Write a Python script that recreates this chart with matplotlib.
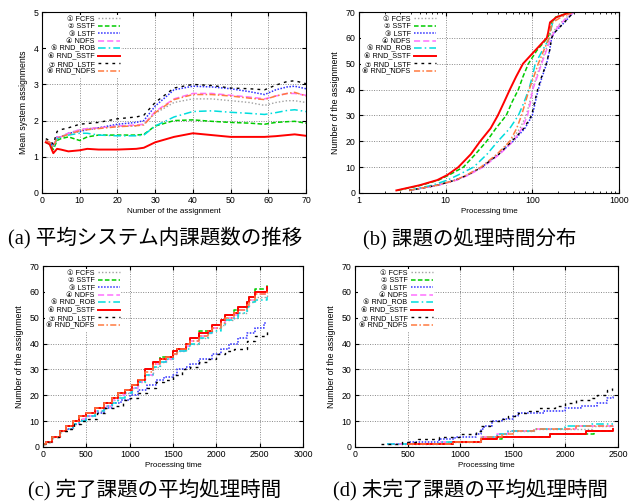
import matplotlib
matplotlib.use("Agg")
import matplotlib.pyplot as plt
import numpy as np

plt.rcParams['font.family'] = ['Liberation Sans', 'DejaVu Sans', 'Noto Sans CJK JP']

labels = ["① FCFS", "② SSTF", "③ LSTF", "④ NDFS",
          "⑤ RND_ROB", "⑥ RND_SSTF", "⑦ RND_LSTF", "⑧ RND_NDFS"]
colors = ['#a0a0a0', '#00cc00', '#3030ff', '#ff70ff',
          '#00dddd', '#ff0000', '#000000', '#ff7a40']
styles = [(0, (1, 1.5)), (0, (3, 1.5)), (0, (1, 1)), (0, (4, 2)),
          (0, (5, 2, 1, 2)), '-', (0, (2, 3)), (0, (4, 1.5, 1, 1.5))]
widths = [1.0, 1.1, 1.1, 1.1, 1.1, 1.4, 1.0, 1.1]

captions = ["(a) 平均システム内課題数の推移", "(b) 課題の処理時間分布",
            "(c) 完了課題の平均処理時間", "(d) 未完了課題の平均処理時間"]

# ---- (a) mean system assignments vs number of the assignment
a_x = [1, 2, 3, 4, 5, 7, 10, 12, 15, 20, 25, 27, 30, 35, 40, 45, 50, 55, 59, 62, 65, 67, 70]
a_fcfs  = [1.45, 1.40, 1.30, 1.50, 1.55, 1.65, 1.75, 1.78, 1.80, 1.85, 1.85, 1.90, 2.20, 2.50, 2.60, 2.60, 2.55, 2.50, 2.42, 2.50, 2.55, 2.55, 2.50]
a_sstf  = [1.40, 1.35, 1.20, 1.45, 1.50, 1.55, 1.45, 1.55, 1.60, 1.60, 1.60, 1.62, 1.85, 2.00, 2.02, 1.98, 1.95, 1.93, 1.90, 1.95, 1.97, 1.98, 1.93]
a_lstf  = [1.45, 1.40, 1.30, 1.55, 1.55, 1.65, 1.70, 1.75, 1.80, 1.90, 1.95, 2.00, 2.40, 2.85, 2.95, 2.93, 2.88, 2.80, 2.72, 2.85, 2.93, 2.95, 2.88]
a_ndfs  = [1.45, 1.40, 1.30, 1.55, 1.55, 1.65, 1.75, 1.78, 1.80, 1.85, 1.88, 1.90, 2.25, 2.60, 2.75, 2.75, 2.70, 2.65, 2.60, 2.68, 2.75, 2.75, 2.70]
a_rrob  = [1.40, 1.35, 1.25, 1.50, 1.55, 1.60, 1.65, 1.65, 1.60, 1.58, 1.58, 1.60, 1.85, 2.10, 2.25, 2.27, 2.23, 2.20, 2.17, 2.22, 2.28, 2.30, 2.25]
a_rsstf = [1.40, 1.35, 1.10, 1.22, 1.20, 1.15, 1.18, 1.22, 1.20, 1.20, 1.22, 1.25, 1.40, 1.55, 1.65, 1.60, 1.55, 1.55, 1.55, 1.57, 1.60, 1.62, 1.58]
a_rlstf = [1.50, 1.45, 1.35, 1.70, 1.75, 1.80, 1.90, 1.92, 1.95, 2.05, 2.10, 2.15, 2.50, 2.90, 3.00, 2.97, 2.90, 2.88, 2.85, 2.98, 3.08, 3.10, 3.02]
a_rndfs = [1.45, 1.40, 1.28, 1.52, 1.55, 1.62, 1.72, 1.75, 1.78, 1.83, 1.86, 1.88, 2.22, 2.58, 2.72, 2.72, 2.68, 2.62, 2.58, 2.68, 2.75, 2.78, 2.68]

# ---- (b) processing-time distribution (x = processing time, y = rank)
b_y     = [1, 3, 5, 7, 10, 15, 20, 25, 30, 35, 40, 45, 50, 55, 60, 62, 64, 66, 68, 70]
b_fcfs  = [3.8, 8.0, 13.0, 18.0, 26.0, 40.0, 56.0, 72.0, 85.0, 93.0, 100, 112, 125, 142, 160, 172, 190, 215, 250, 310]
b_sstf  = [2.8, 5.2, 8.3, 11.0, 16.0, 22.0, 29.7, 38.0, 50.0, 58.0, 69.0, 78.0, 90.0, 112, 150, 160, 164, 168, 185, 280]
b_lstf  = [3.8, 8.0, 13.0, 18.0, 26.0, 41.0, 60.0, 82.0, 100, 108, 117, 130, 146, 158, 167, 180, 205, 235, 265, 300]
b_ndfs  = [3.8, 8.2, 13.5, 18.5, 27.0, 42.0, 60.0, 76.0, 88.0, 95.0, 101, 114, 128, 145, 165, 177, 195, 220, 255, 300]
b_rrob  = [3.8, 7.0, 10.5, 14.0, 21.0, 30.0, 40.0, 55.0, 69.0, 80.0, 91.0, 100, 108, 130, 158, 162, 166, 172, 190, 290]
b_rsstf = [2.7, 5.0, 8.0, 10.5, 14.0, 19.5, 25.0, 33.0, 40.0, 47.0, 55.0, 65.0, 78.0, 107, 147, 152, 156, 160, 190, 280]
b_rlstf = [3.8, 8.0, 13.0, 18.0, 26.0, 41.0, 58.0, 80.0, 98.0, 106, 115, 128, 145, 158, 167, 180, 205, 235, 265, 305]
b_rndfs = [3.8, 8.0, 13.0, 17.5, 25.5, 39.0, 55.0, 66.0, 75.0, 83.0, 92.0, 104, 117, 135, 156, 160, 165, 172, 215, 300]

# ---- (c) completed assignments (step data: time, count)
c_t_main = [0, 30, 100, 200, 270, 350, 420, 500, 600, 700, 800, 870, 950, 1030, 1100, 1180, 1270, 1350, 1420, 1500, 1550, 1650, 1700, 1800, 1900, 1950, 2050, 2100, 2200, 2250, 2350, 2380, 2450, 2580, 2590]
c_fcfs  = [1, 2, 4, 6, 7, 9, 11, 12, 14, 16, 18, 20, 21, 23, 25, 28, 31, 33, 34, 36, 37, 39, 40, 42, 44, 46, 47, 49, 50, 52, 54, 56, 58, 60, 60]
c_sstf  = [1, 2, 4, 6, 8, 10, 12, 13, 15, 17, 19, 21, 22, 24, 26, 30, 33, 35, 35, 37, 38, 40, 42, 45, 45, 47, 49, 51, 53, 54, 56, 58, 61, 63, 63]
c_ndfs  = [1, 2, 4, 6, 8, 9, 11, 12, 14, 16, 18, 20, 21, 23, 25, 28, 32, 33, 34, 36, 37, 39, 41, 43, 44, 46, 48, 50, 51, 53, 55, 57, 59, 60, 60]
c_rrob  = [1, 2, 4, 6, 7, 9, 10, 12, 14, 16, 17, 19, 21, 23, 25, 28, 31, 33, 34, 36, 37, 38, 40, 42, 44, 45, 47, 49, 50, 52, 54, 56, 57, 58, 58]
c_rsstf = [1, 2, 4, 6, 8, 10, 12, 13, 15, 17, 19, 21, 22, 24, 26, 30, 33, 34, 35, 37, 38, 40, 42, 44, 45, 47, 49, 51, 52, 54, 56, 58, 60, 62, 62]
c_rndfs = [1, 2, 4, 6, 8, 10, 12, 13, 15, 17, 19, 21, 22, 24, 26, 29, 32, 34, 35, 36, 38, 40, 41, 43, 45, 46, 48, 50, 52, 53, 55, 57, 59, 61, 61]
c_t_lstf  = [0, 30, 100, 200, 270, 350, 420, 500, 600, 700, 800, 900, 1000, 1100, 1200, 1300, 1400, 1500, 1550, 1650, 1700, 1800, 1950, 2050, 2150, 2250, 2350, 2450, 2550, 2590]
c_lstf    = [1, 2, 4, 6, 7, 9, 10, 12, 13, 15, 17, 18, 20, 22, 24, 26, 27, 28, 30, 31, 32, 34, 36, 38, 40, 42, 44, 46, 48, 48]
c_t_rlstf = [0, 30, 100, 200, 290, 360, 440, 520, 620, 720, 820, 920, 1000, 1100, 1200, 1300, 1400, 1500, 1600, 1700, 1800, 1900, 2000, 2100, 2200, 2350, 2450, 2580, 2590]
c_rlstf   = [1, 2, 4, 6, 7, 9, 10, 11, 13, 15, 16, 18, 19, 21, 23, 25, 26, 28, 30, 31, 33, 34, 36, 37, 38, 41, 43, 45, 45]

# ---- (d) uncompleted assignments (step data: time, count)
d_t_fcfs  = [300, 450, 800, 1200, 1350, 1450, 1700, 2000, 2250, 2450]
d_fcfs    = [1, 1, 2, 4, 5, 6, 7, 7, 8, 8]
d_t_sstf  = [500, 930, 1200, 1400, 1850, 2270, 2450]
d_sstf    = [1, 2, 3, 4, 5, 6, 6]
d_t_lstf  = [300, 500, 800, 950, 1150, 1200, 1230, 1300, 1400, 1500, 1550, 1800, 2000, 2150, 2300, 2400, 2450]
d_lstf    = [1, 2, 3, 4, 5, 7, 8, 10, 11, 12, 13, 14, 15, 16, 17, 19, 20]
d_t_ndfs  = [300, 800, 1200, 1350, 1450, 1700, 2100, 2300, 2450]
d_ndfs    = [1, 2, 4, 5, 6, 7, 8, 8, 9]
d_t_rrob  = [300, 800, 1200, 1350, 1450, 1700, 2000, 2250, 2450]
d_rrob    = [1, 2, 4, 5, 6, 7, 8, 9, 9]
d_t_rsstf = [500, 930, 1200, 1350, 1850, 2200, 2450]
d_rsstf   = [1, 2, 3, 4, 5, 6, 7]
d_t_rlstf = [250, 450, 600, 800, 1000, 1150, 1200, 1280, 1400, 1450, 1550, 1650, 1750, 1900, 2000, 2100, 2250, 2300, 2400, 2440]
d_rlstf   = [1, 2, 3, 4, 5, 6, 8, 10, 11, 12, 13, 14, 15, 16, 17, 18, 19, 20, 22, 23]
d_t_rndfs = [500, 930, 1200, 1400, 1500, 1700, 2100, 2450]
d_rndfs   = [1, 2, 4, 5, 6, 7, 8, 8]

fig = plt.figure(figsize=(6.32, 5.01), dpi=100)
W, H = 632, 501

def make_ax(l, r, t, b):
    return fig.add_axes([l / W, 1 - b / H, (r - l) / W, (b - t) / H])

ax_a = make_ax(42, 306, 12, 193)
ax_b = make_ax(359, 619, 12, 193)
ax_c = make_ax(43, 303, 266, 447)
ax_d = make_ax(355, 618, 266, 447)

fs = 6.3

def style(ax, xlabel, ylabel):
    ax.grid(True, color='#888888', linestyle=(0, (1, 1.5)), linewidth=0.7)
    ax.set_axisbelow(True)
    ax.tick_params(direction='in', top=True, right=True, labelsize=fs, length=3, pad=2.5)
    ax.tick_params(which='minor', direction='in', top=True, right=True, length=1.6)
    ax.set_xlabel(xlabel, fontsize=5.8, labelpad=2)
    ax.set_ylabel(ylabel, fontsize=6.3, labelpad=4)
    for s in ax.spines.values():
        s.set_linewidth(0.8)
    leg = ax.legend(loc='upper right', bbox_to_anchor=(0.30, 0.985), fontsize=5.2,
                    markerfirst=False, frameon=True, framealpha=1, edgecolor='none',
                    facecolor='white', labelspacing=0.05, handlelength=3.0,
                    handletextpad=0.5, borderpad=0.15, borderaxespad=0.0)
    for t in leg.get_texts():
        t.set_ha('right')
    leg.set_zorder(5)

def draw(ax, xs, ys, steps=False):
    for i in range(8):
        ax.plot(xs[i], ys[i], color=colors[i], linestyle=styles[i], linewidth=widths[i],
                label=labels[i], drawstyle='steps-post' if steps else 'default')

# (a)
draw(ax_a, [a_x] * 8, [a_fcfs, a_sstf, a_lstf, a_ndfs, a_rrob, a_rsstf, a_rlstf, a_rndfs])
ax_a.set_xlim(0, 70)
ax_a.set_ylim(0, 5)
ax_a.set_xticks(range(0, 71, 10))
ax_a.set_yticks(range(0, 6))
style(ax_a, "Number of the assignment", "Mean system assignments")

# (b)
draw(ax_b, [b_fcfs, b_sstf, b_lstf, b_ndfs, b_rrob, b_rsstf, b_rlstf, b_rndfs], [b_y] * 8)
ax_b.set_xscale('log')
ax_b.set_xlim(1, 1000)
ax_b.set_ylim(0, 70)
ax_b.set_xticks([1, 10, 100, 1000])
ax_b.set_xticklabels(["1", "10", "100", "1000"])
ax_b.set_yticks(range(0, 71, 10))
style(ax_b, "Processing time", "Number of the assignment")
ax_b.grid(False, which='minor')

# (c)
draw(ax_c, [c_t_main, c_t_main, c_t_lstf, c_t_main, c_t_main, c_t_main, c_t_rlstf, c_t_main],
     [c_fcfs, c_sstf, c_lstf, c_ndfs, c_rrob, c_rsstf, c_rlstf, c_rndfs], steps=True)
ax_c.set_xlim(0, 3000)
ax_c.set_ylim(0, 70)
ax_c.set_xticks(range(0, 3001, 500))
ax_c.set_yticks(range(0, 71, 10))
style(ax_c, "Processing time", "Number of the assignment")

# (d)
draw(ax_d, [d_t_fcfs, d_t_sstf, d_t_lstf, d_t_ndfs, d_t_rrob, d_t_rsstf, d_t_rlstf, d_t_rndfs],
     [d_fcfs, d_sstf, d_lstf, d_ndfs, d_rrob, d_rsstf, d_rlstf, d_rndfs], steps=True)
ax_d.set_xlim(0, 2500)
ax_d.set_ylim(0, 70)
ax_d.set_xticks(range(0, 2501, 500))
ax_d.set_yticks(range(0, 71, 10))
style(ax_d, "Processing time", "Number of the assignment")

cap_pos = [(155, 238), (470, 238), (155, 489), (470, 489)]
for (cx, cy), cap in zip(cap_pos, captions):
    fig.text(cx / W, 1 - cy / H, cap, ha='center', va='center', fontsize=14.8,
             family=['Liberation Serif', 'Noto Sans CJK JP'])

fig.savefig("out.png", dpi=100)
